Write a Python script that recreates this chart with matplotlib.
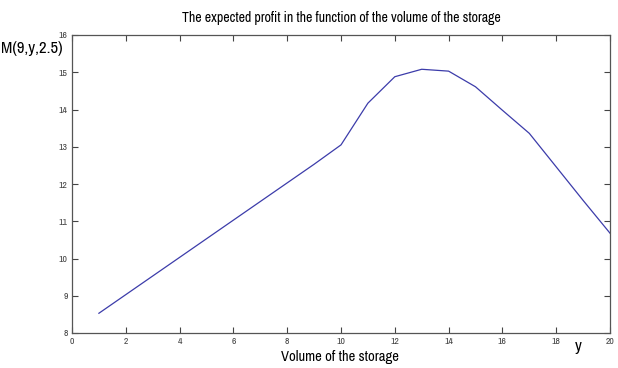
import matplotlib
matplotlib.use("Agg")
import matplotlib.pyplot as plt

# Storage volume and expected profit M(9, y, 2.5)
volume = [1, 2, 3, 4, 5, 6, 7, 8, 9, 10, 11, 12, 13, 14, 15, 16, 17, 18, 19, 20]
profit = [8.53, 9.03, 9.53, 10.03, 10.53, 11.03, 11.53, 12.03, 12.53, 13.05,
          14.17, 14.88, 15.08, 15.03, 14.61, 13.98, 13.36, 12.46, 11.56, 10.68]
x_ticks = [0, 2, 4, 6, 8, 10, 12, 14, 16, 18, 20]
y_ticks = [8, 9, 10, 11, 12, 13, 14, 15, 16]

plt.rcParams["font.family"] = ["Archivo Narrow", "DejaVu Sans"]

W, H = 618, 368
fig = plt.figure(figsize=(W / 100, H / 100), dpi=100)
ax = fig.add_axes([72 / W, 1 - 333 / H, (610 - 72) / W, (333 - 35) / H])

ax.plot(volume, profit, color="#3c3caa", linewidth=0.9)

ax.set_xlim(0, 20)
ax.set_ylim(8, 16)
ax.set_xticks(x_ticks)
ax.set_yticks(y_ticks)
ax.tick_params(direction="in", length=4, width=0.8, color="#444444",
               labelcolor="#444444", labelsize=7, top=True, right=True, pad=3)
for s in ax.spines.values():
    s.set_color("#555555")
    s.set_linewidth(0.9)

# titles and labels placed in figure pixels
fig.text(341 / W, 1 - 18 / H, "The expected profit in the function of the volume of the storage",
         fontsize=10, ha="center", va="center")
fig.text(340 / W, 1 - 357 / H, "Volume of the storage", fontsize=10.5, ha="center", va="center")
fig.text(1 / W, 1 - 49 / H, "M(9,y,2.5)", fontsize=12, ha="left", va="center")
fig.text(578 / W, 1 - 346 / H, "y", fontsize=12, ha="center", va="center")

fig.savefig("out.png", dpi=100)
